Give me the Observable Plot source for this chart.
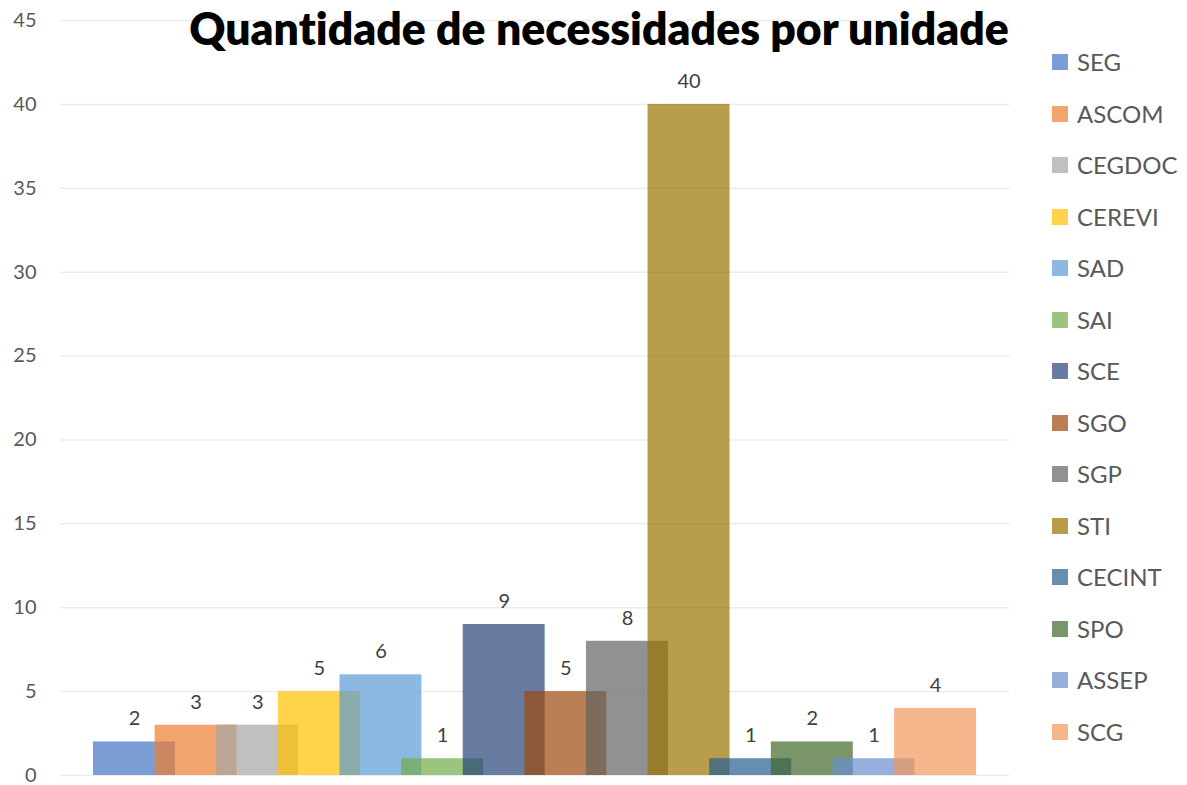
<!DOCTYPE html>
<html>
<head>
<meta charset="utf-8">
<script src="https://cdn.jsdelivr.net/npm/d3@7"></script>
<script src="https://cdn.jsdelivr.net/npm/@observablehq/plot@0.6"></script>
<style>
  html, body { margin: 0; padding: 0; background: #fff; }
  #wrap { position: relative; width: 1187px; height: 785px; font-family: Lato, "Open Sans", sans-serif; font-variant-ligatures: none; }
  #title { position: absolute; left: 0; width: 1198px; top: 1px; text-align: center; font-weight: 800; font-size: 44.5px; color: #000; white-space: nowrap; font-variant-ligatures: none; }
  #legend { position: absolute; left: 1052px; top: 48px; }
  .li { height: 51.5px; display: flex; align-items: flex-start; }
  .sw { width: 16px; height: 16px; margin-top: 6px; }
  .lt { margin-left: 9px; font-size: 24px; color: #595959; line-height: 28px; }
</style>
</head>
<body>
<div id="wrap">
  <div id="chart"></div>
  <div id="title">Quantidade de necessidades por unidade</div>
  <div id="legend"></div>
</div>
<script>
const units = ["SEG","ASCOM","CEGDOC","CEREVI","SAD","SAI","SCE","SGO","SGP","STI","CECINT","SPO","ASSEP","SCG"];
const counts = [2,3,3,5,6,1,9,5,8,40,1,2,1,4];
const colors = ["#4472C4","#ED7D31","#A5A5A5","#FFC000","#5B9BD5","#70AD47","#264478","#9E480E","#636363","#997300","#255E91","#43682B","#698ED0","#F1975A"];
const yTicks = [0,5,10,15,20,25,30,35,40,45];

const data = units.map((u, i) => ({unit: u, value: counts[i], idx: i, color: colors[i]}));
const barW = 1.33;

const chart = Plot.plot({
  width: 1187,
  height: 785,
  marginLeft: 60,
  marginRight: 178,
  marginTop: 20,
  marginBottom: 10,
  style: {fontFamily: "Lato, 'Open Sans', sans-serif", background: "#fff"},
  x: {domain: [-1.2, 14.2], axis: null},
  y: {domain: [0, 45]},
  marks: [
    Plot.gridY(yTicks, {stroke: "#ececec", strokeOpacity: 1, strokeWidth: 1.5}),
    Plot.axisY(yTicks, {tickSize: 0, tickPadding: 24, fontSize: 20, fill: "#595959", label: null}),
    Plot.rectY(data, {x1: d => d.idx - barW / 2, x2: d => d.idx + barW / 2, y1: 0, y2: "value", fill: d => d.color, fillOpacity: 0.7}),
    Plot.text(data, {x: "idx", y: "value", text: d => String(d.value), dy: -23, fontSize: 20, fill: "#404040"})
  ]
});
document.getElementById("chart").appendChild(chart);

const lg = document.getElementById("legend");
units.forEach((u, i) => {
  const row = document.createElement("div");
  row.className = "li";
  const sw = document.createElement("div");
  sw.className = "sw";
  sw.style.background = colors[i];
  sw.style.opacity = 0.7;
  const t = document.createElement("div");
  t.className = "lt";
  t.textContent = u;
  row.appendChild(sw); row.appendChild(t);
  lg.appendChild(row);
});
</script>
</body>
</html>
